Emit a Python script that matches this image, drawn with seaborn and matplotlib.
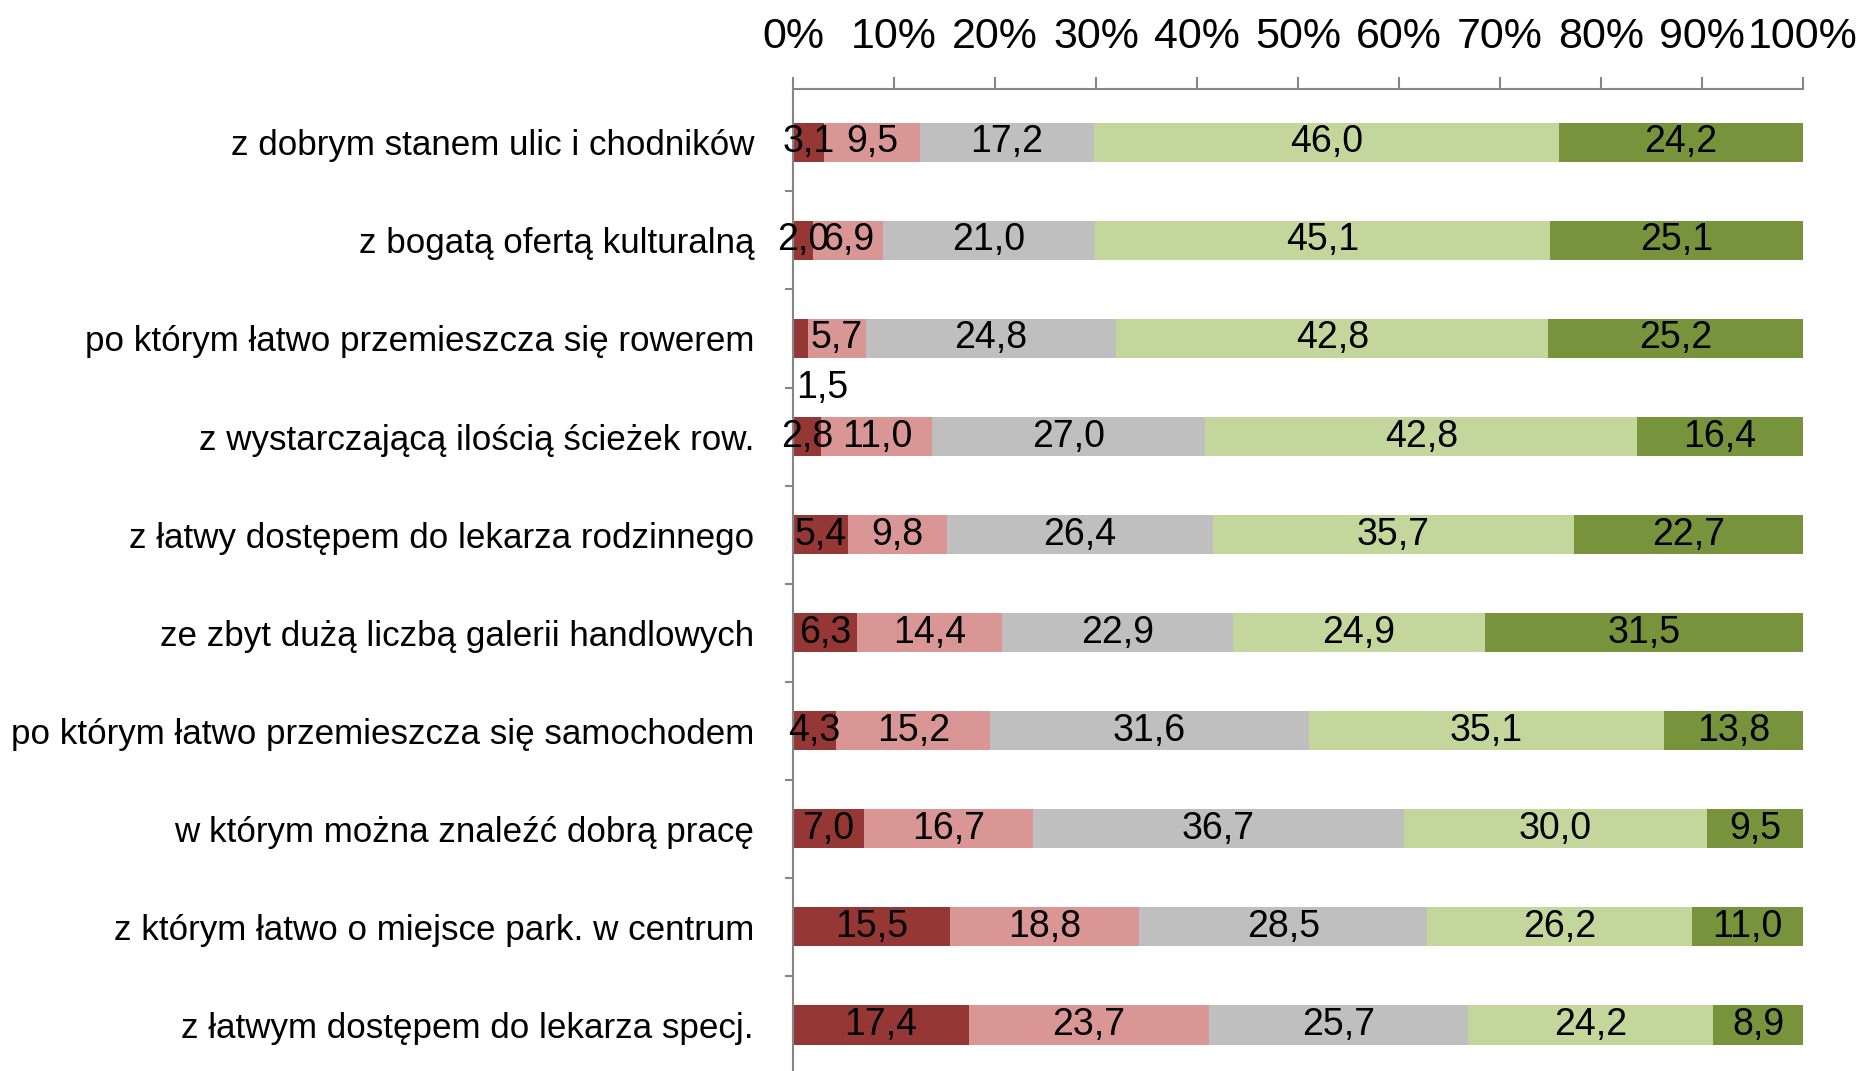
import numpy as np
import pandas as pd
import matplotlib
matplotlib.use("Agg")
import matplotlib.pyplot as plt
import seaborn as sns

categories = [
    "z dobrym stanem ulic i chodników",
    "z bogatą ofertą kulturalną",
    "po którym łatwo przemieszcza się rowerem",
    "z wystarczającą ilością ścieżek row.",
    "z łatwy dostępem do lekarza rodzinnego",
    "ze zbyt dużą liczbą galerii handlowych",
    "po którym łatwo przemieszcza się samochodem",
    "w którym można znaleźć dobrą pracę",
    "z którym łatwo o miejsce park. w centrum",
    "z łatwym dostępem do lekarza specj.",
]
series_names = ["zdecydowanie nie", "raczej nie", "trudno powiedzieć", "raczej tak", "zdecydowanie tak"]
zdecydowanie_nie = [3.1, 2.0, 1.5, 2.8, 5.4, 6.3, 4.3, 7.0, 15.5, 17.4]
raczej_nie = [9.5, 6.9, 5.7, 11.0, 9.8, 14.4, 15.2, 16.7, 18.8, 23.7]
trudno_powiedziec = [17.2, 21.0, 24.8, 27.0, 26.4, 22.9, 31.6, 36.7, 28.5, 25.7]
raczej_tak = [46.0, 45.1, 42.8, 42.8, 35.7, 24.9, 35.1, 30.0, 26.2, 24.2]
zdecydowanie_tak = [24.2, 25.1, 25.2, 16.4, 22.7, 31.5, 13.8, 9.5, 11.0, 8.9]
colors = ["#953735", "#D99694", "#BFBFBF", "#C3D69B", "#77933C"]
xtick_labels = ["0%", "10%", "20%", "30%", "40%", "50%", "60%", "70%", "80%", "90%", "100%"]

sns.set_theme(style="white")
plt.rcParams["font.family"] = ["Liberation Sans Narrow", "Liberation Sans", "DejaVu Sans"]
plt.rcParams["text.color"] = "black"
plt.rcParams["xtick.color"] = "black"
plt.rcParams["ytick.color"] = "black"

vals = np.array([zdecydowanie_nie, raczej_nie, trudno_powiedziec, raczej_tak, zdecydowanie_tak])
tot = vals.sum(axis=0)
norm = vals / tot * 100
cum = np.cumsum(norm, axis=0)
left = cum - norm

fig = plt.figure(figsize=(18.64, 10.71), dpi=100)
ax = fig.add_axes([793 / 1864, 0.0, (1803 - 793) / 1864, 1 - 89 / 1071])

# stacked bars: draw cumulative totals from the largest down
for k in range(4, -1, -1):
    df = pd.DataFrame({"kategoria": categories, "wartosc": cum[k]})
    sns.barplot(data=df, x="wartosc", y="kategoria", orient="h", color=colors[k],
                saturation=1, width=0.4, ax=ax, edgecolor="none", linewidth=0)

# value labels
for k in range(5):
    for i in range(len(categories)):
        txt = f"{vals[k, i]:.1f}".replace(".", ",")
        if k == 0 and i == 2:
            ax.text(left[k, i] + 0.3, i + 0.5, txt, ha="left", va="center",
                    fontsize=27, color="black")
        else:
            ax.text(left[k, i] + norm[k, i] / 2, i, txt, ha="center", va="center",
                    fontsize=27, color="black")

ax.set_xlim(0, 100)
ax.set_ylim(9.47, -0.544)
ax.set_xlabel("")
ax.set_ylabel("")
ax.xaxis.tick_top()
ax.set_xticks(np.arange(0, 101, 10))
ax.set_xticklabels(xtick_labels, fontsize=31, color="black")
ax.tick_params(axis="x", which="major", direction="out", length=9, width=1.5,
               color="#868686", pad=14, top=True, bottom=False)
ax.set_yticks(np.arange(len(categories)))
ax.set_yticklabels(categories, fontsize=25.2, color="black")
ax.set_yticks(np.arange(0.5, len(categories) - 1, 1), minor=True)
ax.tick_params(axis="y", which="major", length=0, pad=28)
ax.tick_params(axis="y", which="minor", direction="out", length=6, width=1.5,
               color="#868686", left=True)
for s in ["right", "bottom"]:
    ax.spines[s].set_visible(False)
for s in ["top", "left"]:
    ax.spines[s].set_visible(True)
    ax.spines[s].set_color("#868686")
    ax.spines[s].set_linewidth(1.5)
ax.grid(False)

fig.savefig("out.png", dpi=100)
